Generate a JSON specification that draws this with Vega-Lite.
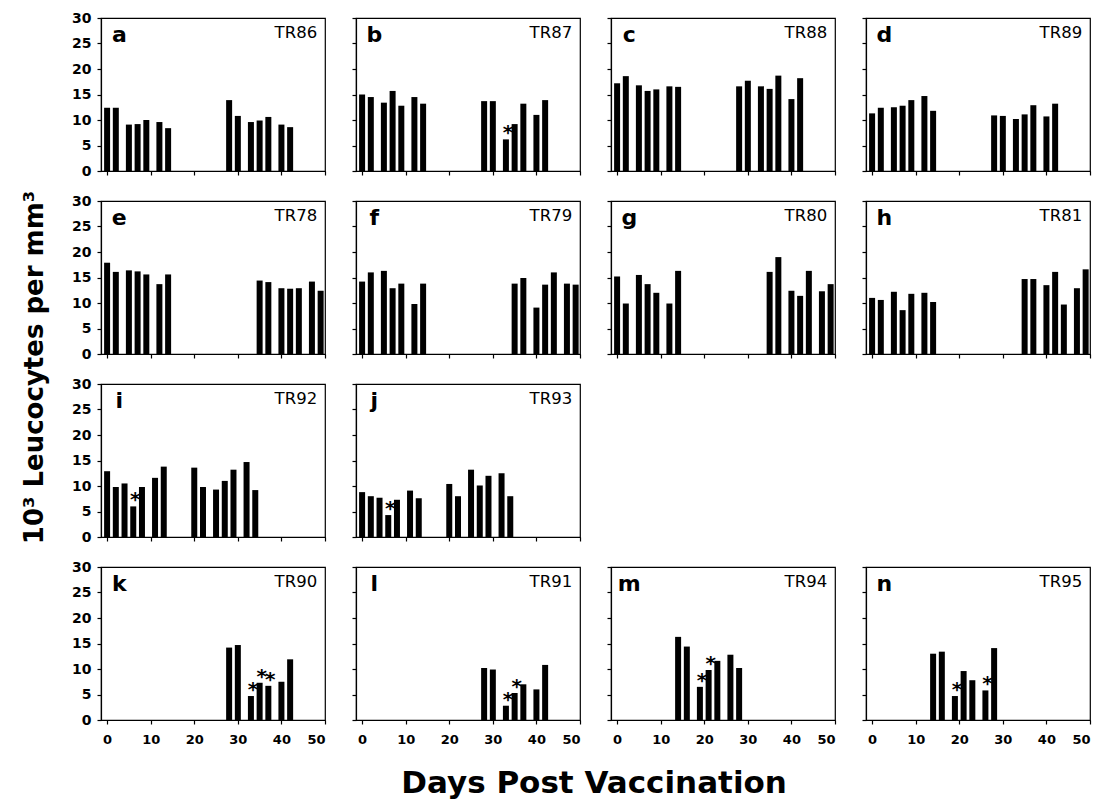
{
"$schema": "https://vega.github.io/schema/vega-lite/v6.json",
"background": "white",
"padding": {"left": 21, "top": 10, "right": 5, "bottom": 5},
"title": {"text": "10³ Leucocytes per mm³", "orient": "left", "anchor": "middle", "fontSize": 26, "offset": 23, "dx": 37},
"spacing": 14,
"datasets": {
"bars": [
{"p":"a","day":0,"wbc":12.4,"star":false},{"p":"a","day":2,"wbc":12.4,"star":false},{"p":"a","day":5,"wbc":9.1,"star":false},{"p":"a","day":7,"wbc":9.2,"star":false},{"p":"a","day":9,"wbc":10.0,"star":false},{"p":"a","day":12,"wbc":9.6,"star":false},{"p":"a","day":14,"wbc":8.4,"star":false},{"p":"a","day":28,"wbc":13.9,"star":false},{"p":"a","day":30,"wbc":10.8,"star":false},{"p":"a","day":33,"wbc":9.6,"star":false},{"p":"a","day":35,"wbc":9.9,"star":false},{"p":"a","day":37,"wbc":10.6,"star":false},{"p":"a","day":40,"wbc":9.1,"star":false},{"p":"a","day":42,"wbc":8.6,"star":false},
{"p":"b","day":0,"wbc":15.0,"star":false},{"p":"b","day":2,"wbc":14.5,"star":false},{"p":"b","day":5,"wbc":13.4,"star":false},{"p":"b","day":7,"wbc":15.7,"star":false},{"p":"b","day":9,"wbc":12.8,"star":false},{"p":"b","day":12,"wbc":14.5,"star":false},{"p":"b","day":14,"wbc":13.2,"star":false},{"p":"b","day":28,"wbc":13.7,"star":false},{"p":"b","day":30,"wbc":13.7,"star":false},{"p":"b","day":33,"wbc":6.2,"star":true},{"p":"b","day":35,"wbc":9.2,"star":false},{"p":"b","day":37,"wbc":13.2,"star":false},{"p":"b","day":40,"wbc":11.0,"star":false},{"p":"b","day":42,"wbc":13.9,"star":false},
{"p":"c","day":0,"wbc":17.2,"star":false},{"p":"c","day":2,"wbc":18.6,"star":false},{"p":"c","day":5,"wbc":16.8,"star":false},{"p":"c","day":7,"wbc":15.7,"star":false},{"p":"c","day":9,"wbc":16.0,"star":false},{"p":"c","day":12,"wbc":16.6,"star":false},{"p":"c","day":14,"wbc":16.5,"star":false},{"p":"c","day":28,"wbc":16.6,"star":false},{"p":"c","day":30,"wbc":17.7,"star":false},{"p":"c","day":33,"wbc":16.6,"star":false},{"p":"c","day":35,"wbc":16.1,"star":false},{"p":"c","day":37,"wbc":18.7,"star":false},{"p":"c","day":40,"wbc":14.1,"star":false},{"p":"c","day":42,"wbc":18.2,"star":false},
{"p":"d","day":0,"wbc":11.3,"star":false},{"p":"d","day":2,"wbc":12.4,"star":false},{"p":"d","day":5,"wbc":12.5,"star":false},{"p":"d","day":7,"wbc":12.8,"star":false},{"p":"d","day":9,"wbc":13.9,"star":false},{"p":"d","day":12,"wbc":14.7,"star":false},{"p":"d","day":14,"wbc":11.8,"star":false},{"p":"d","day":28,"wbc":10.9,"star":false},{"p":"d","day":30,"wbc":10.8,"star":false},{"p":"d","day":33,"wbc":10.2,"star":false},{"p":"d","day":35,"wbc":11.1,"star":false},{"p":"d","day":37,"wbc":12.9,"star":false},{"p":"d","day":40,"wbc":10.7,"star":false},{"p":"d","day":42,"wbc":13.2,"star":false},
{"p":"e","day":0,"wbc":17.9,"star":false},{"p":"e","day":2,"wbc":16.1,"star":false},{"p":"e","day":5,"wbc":16.4,"star":false},{"p":"e","day":7,"wbc":16.2,"star":false},{"p":"e","day":9,"wbc":15.6,"star":false},{"p":"e","day":12,"wbc":13.7,"star":false},{"p":"e","day":14,"wbc":15.6,"star":false},{"p":"e","day":35,"wbc":14.4,"star":false},{"p":"e","day":37,"wbc":14.1,"star":false},{"p":"e","day":40,"wbc":12.9,"star":false},{"p":"e","day":42,"wbc":12.8,"star":false},{"p":"e","day":44,"wbc":12.9,"star":false},{"p":"e","day":47,"wbc":14.2,"star":false},{"p":"e","day":49,"wbc":12.4,"star":false},
{"p":"f","day":0,"wbc":14.2,"star":false},{"p":"f","day":2,"wbc":16.0,"star":false},{"p":"f","day":5,"wbc":16.3,"star":false},{"p":"f","day":7,"wbc":12.9,"star":false},{"p":"f","day":9,"wbc":13.8,"star":false},{"p":"f","day":12,"wbc":9.8,"star":false},{"p":"f","day":14,"wbc":13.8,"star":false},{"p":"f","day":35,"wbc":13.8,"star":false},{"p":"f","day":37,"wbc":14.9,"star":false},{"p":"f","day":40,"wbc":9.1,"star":false},{"p":"f","day":42,"wbc":13.6,"star":false},{"p":"f","day":44,"wbc":16.0,"star":false},{"p":"f","day":47,"wbc":13.8,"star":false},{"p":"f","day":49,"wbc":13.6,"star":false},
{"p":"g","day":0,"wbc":15.2,"star":false},{"p":"g","day":2,"wbc":9.9,"star":false},{"p":"g","day":5,"wbc":15.5,"star":false},{"p":"g","day":7,"wbc":13.7,"star":false},{"p":"g","day":9,"wbc":12.0,"star":false},{"p":"g","day":12,"wbc":9.9,"star":false},{"p":"g","day":14,"wbc":16.3,"star":false},{"p":"g","day":35,"wbc":16.1,"star":false},{"p":"g","day":37,"wbc":19.0,"star":false},{"p":"g","day":40,"wbc":12.4,"star":false},{"p":"g","day":42,"wbc":11.4,"star":false},{"p":"g","day":44,"wbc":16.3,"star":false},{"p":"g","day":47,"wbc":12.3,"star":false},{"p":"g","day":49,"wbc":13.7,"star":false},
{"p":"h","day":0,"wbc":11.0,"star":false},{"p":"h","day":2,"wbc":10.6,"star":false},{"p":"h","day":5,"wbc":12.2,"star":false},{"p":"h","day":7,"wbc":8.6,"star":false},{"p":"h","day":9,"wbc":11.8,"star":false},{"p":"h","day":12,"wbc":12.0,"star":false},{"p":"h","day":14,"wbc":10.2,"star":false},{"p":"h","day":35,"wbc":14.7,"star":false},{"p":"h","day":37,"wbc":14.7,"star":false},{"p":"h","day":40,"wbc":13.5,"star":false},{"p":"h","day":42,"wbc":16.1,"star":false},{"p":"h","day":44,"wbc":9.7,"star":false},{"p":"h","day":47,"wbc":12.9,"star":false},{"p":"h","day":49,"wbc":16.6,"star":false},
{"p":"i","day":0,"wbc":12.9,"star":false},{"p":"i","day":2,"wbc":9.8,"star":false},{"p":"i","day":4,"wbc":10.5,"star":false},{"p":"i","day":6,"wbc":6.0,"star":true},{"p":"i","day":8,"wbc":9.8,"star":false},{"p":"i","day":11,"wbc":11.6,"star":false},{"p":"i","day":13,"wbc":13.8,"star":false},{"p":"i","day":20,"wbc":13.6,"star":false},{"p":"i","day":22,"wbc":9.8,"star":false},{"p":"i","day":25,"wbc":9.3,"star":false},{"p":"i","day":27,"wbc":11.0,"star":false},{"p":"i","day":29,"wbc":13.2,"star":false},{"p":"i","day":32,"wbc":14.7,"star":false},{"p":"i","day":34,"wbc":9.2,"star":false},
{"p":"j","day":0,"wbc":8.8,"star":false},{"p":"j","day":2,"wbc":8.0,"star":false},{"p":"j","day":4,"wbc":7.7,"star":false},{"p":"j","day":6,"wbc":4.3,"star":true},{"p":"j","day":8,"wbc":7.3,"star":false},{"p":"j","day":11,"wbc":9.1,"star":false},{"p":"j","day":13,"wbc":7.6,"star":false},{"p":"j","day":20,"wbc":10.4,"star":false},{"p":"j","day":22,"wbc":8.0,"star":false},{"p":"j","day":25,"wbc":13.2,"star":false},{"p":"j","day":27,"wbc":10.1,"star":false},{"p":"j","day":29,"wbc":12.0,"star":false},{"p":"j","day":32,"wbc":12.5,"star":false},{"p":"j","day":34,"wbc":8.0,"star":false},
{"p":"k","day":28,"wbc":14.2,"star":false},{"p":"k","day":30,"wbc":14.7,"star":false},{"p":"k","day":33,"wbc":4.7,"star":true},{"p":"k","day":35,"wbc":7.3,"star":true},{"p":"k","day":37,"wbc":6.7,"star":true},{"p":"k","day":40,"wbc":7.5,"star":false},{"p":"k","day":42,"wbc":11.9,"star":false},
{"p":"l","day":28,"wbc":10.2,"star":false},{"p":"l","day":30,"wbc":9.9,"star":false},{"p":"l","day":33,"wbc":2.8,"star":true},{"p":"l","day":35,"wbc":5.3,"star":true},{"p":"l","day":37,"wbc":7.0,"star":false},{"p":"l","day":40,"wbc":6.0,"star":false},{"p":"l","day":42,"wbc":10.8,"star":false},
{"p":"m","day":14,"wbc":16.3,"star":false},{"p":"m","day":16,"wbc":14.4,"star":false},{"p":"m","day":19,"wbc":6.5,"star":true},{"p":"m","day":21,"wbc":9.8,"star":true},{"p":"m","day":23,"wbc":11.6,"star":false},{"p":"m","day":26,"wbc":12.8,"star":false},{"p":"m","day":28,"wbc":10.2,"star":false},
{"p":"n","day":14,"wbc":13.0,"star":false},{"p":"n","day":16,"wbc":13.4,"star":false},{"p":"n","day":19,"wbc":4.7,"star":true},{"p":"n","day":21,"wbc":9.6,"star":false},{"p":"n","day":23,"wbc":7.8,"star":false},{"p":"n","day":26,"wbc":5.8,"star":true},{"p":"n","day":28,"wbc":14.1,"star":false}
],
"panels": [
{"p":"a","id":"TR86"},{"p":"b","id":"TR87"},{"p":"c","id":"TR88"},{"p":"d","id":"TR89"},{"p":"e","id":"TR78"},{"p":"f","id":"TR79"},{"p":"g","id":"TR80"},{"p":"h","id":"TR81"},{"p":"i","id":"TR92"},{"p":"j","id":"TR93"},{"p":"k","id":"TR90"},{"p":"l","id":"TR91"},{"p":"m","id":"TR94"},{"p":"n","id":"TR95"}
]
},
"vconcat": [
{"hconcat": [
{"width":224,"height":153,"layer":[
{"data":{"name":"bars"},"transform":[{"filter":"datum.p==='a'"}],"mark":{"type":"bar","size":6,"color":"black"},"encoding":{"x":{"field":"day","type":"quantitative","scale":{"domain":[-1.4,50],"nice":false,"zero":false,"padding":0},"axis":{"labels":false,"title":null}},"y":{"field":"wbc","type":"quantitative","scale":{"domain":[0,30],"nice":false,"padding":0},"axis":{"labels":true,"title":null}}}},
{"data":{"name":"bars"},"transform":[{"filter":"datum.p==='a' && datum.star"}],"mark":{"type":"text","text":"*","fontSize":20,"fontWeight":"bold","dx":2,"dy":0,"baseline":"alphabetic"},"encoding":{"x":{"field":"day","type":"quantitative"},"y":{"field":"wbc","type":"quantitative"}}},
{"data":{"name":"panels"},"transform":[{"filter":"datum.p==='a'"}],"mark":{"type":"text","fontSize":22,"fontWeight":"bold","align":"center","baseline":"alphabetic"},"encoding":{"text":{"field":"p"},"x":{"datum":2.8},"y":{"datum":25.2}}},
{"data":{"name":"panels"},"transform":[{"filter":"datum.p==='a'"}],"mark":{"type":"text","fontSize":16.5,"align":"right","baseline":"alphabetic"},"encoding":{"text":{"field":"id"},"x":{"datum":48.2},"y":{"datum":26.0}}}
]},
{"width":224,"height":153,"layer":[
{"data":{"name":"bars"},"transform":[{"filter":"datum.p==='b'"}],"mark":{"type":"bar","size":6,"color":"black"},"encoding":{"x":{"field":"day","type":"quantitative","scale":{"domain":[-1.4,50],"nice":false,"zero":false,"padding":0},"axis":{"labels":false,"title":null}},"y":{"field":"wbc","type":"quantitative","scale":{"domain":[0,30],"nice":false,"padding":0},"axis":{"labels":false,"title":null}}}},
{"data":{"name":"bars"},"transform":[{"filter":"datum.p==='b' && datum.star"}],"mark":{"type":"text","text":"*","fontSize":20,"fontWeight":"bold","dx":2,"dy":0,"baseline":"alphabetic"},"encoding":{"x":{"field":"day","type":"quantitative"},"y":{"field":"wbc","type":"quantitative"}}},
{"data":{"name":"panels"},"transform":[{"filter":"datum.p==='b'"}],"mark":{"type":"text","fontSize":22,"fontWeight":"bold","align":"center","baseline":"alphabetic"},"encoding":{"text":{"field":"p"},"x":{"datum":2.8},"y":{"datum":25.2}}},
{"data":{"name":"panels"},"transform":[{"filter":"datum.p==='b'"}],"mark":{"type":"text","fontSize":16.5,"align":"right","baseline":"alphabetic"},"encoding":{"text":{"field":"id"},"x":{"datum":48.2},"y":{"datum":26.0}}}
]},
{"width":224,"height":153,"layer":[
{"data":{"name":"bars"},"transform":[{"filter":"datum.p==='c'"}],"mark":{"type":"bar","size":6,"color":"black"},"encoding":{"x":{"field":"day","type":"quantitative","scale":{"domain":[-1.4,50],"nice":false,"zero":false,"padding":0},"axis":{"labels":false,"title":null}},"y":{"field":"wbc","type":"quantitative","scale":{"domain":[0,30],"nice":false,"padding":0},"axis":{"labels":false,"title":null}}}},
{"data":{"name":"bars"},"transform":[{"filter":"datum.p==='c' && datum.star"}],"mark":{"type":"text","text":"*","fontSize":20,"fontWeight":"bold","dx":2,"dy":0,"baseline":"alphabetic"},"encoding":{"x":{"field":"day","type":"quantitative"},"y":{"field":"wbc","type":"quantitative"}}},
{"data":{"name":"panels"},"transform":[{"filter":"datum.p==='c'"}],"mark":{"type":"text","fontSize":22,"fontWeight":"bold","align":"center","baseline":"alphabetic"},"encoding":{"text":{"field":"p"},"x":{"datum":2.8},"y":{"datum":25.2}}},
{"data":{"name":"panels"},"transform":[{"filter":"datum.p==='c'"}],"mark":{"type":"text","fontSize":16.5,"align":"right","baseline":"alphabetic"},"encoding":{"text":{"field":"id"},"x":{"datum":48.2},"y":{"datum":26.0}}}
]},
{"width":224,"height":153,"layer":[
{"data":{"name":"bars"},"transform":[{"filter":"datum.p==='d'"}],"mark":{"type":"bar","size":6,"color":"black"},"encoding":{"x":{"field":"day","type":"quantitative","scale":{"domain":[-1.4,50],"nice":false,"zero":false,"padding":0},"axis":{"labels":false,"title":null}},"y":{"field":"wbc","type":"quantitative","scale":{"domain":[0,30],"nice":false,"padding":0},"axis":{"labels":false,"title":null}}}},
{"data":{"name":"bars"},"transform":[{"filter":"datum.p==='d' && datum.star"}],"mark":{"type":"text","text":"*","fontSize":20,"fontWeight":"bold","dx":2,"dy":0,"baseline":"alphabetic"},"encoding":{"x":{"field":"day","type":"quantitative"},"y":{"field":"wbc","type":"quantitative"}}},
{"data":{"name":"panels"},"transform":[{"filter":"datum.p==='d'"}],"mark":{"type":"text","fontSize":22,"fontWeight":"bold","align":"center","baseline":"alphabetic"},"encoding":{"text":{"field":"p"},"x":{"datum":2.8},"y":{"datum":25.2}}},
{"data":{"name":"panels"},"transform":[{"filter":"datum.p==='d'"}],"mark":{"type":"text","fontSize":16.5,"align":"right","baseline":"alphabetic"},"encoding":{"text":{"field":"id"},"x":{"datum":48.2},"y":{"datum":26.0}}}
]}
], "spacing": 31, "bounds": "flush"},
{"hconcat": [
{"width":224,"height":153,"layer":[
{"data":{"name":"bars"},"transform":[{"filter":"datum.p==='e'"}],"mark":{"type":"bar","size":6,"color":"black"},"encoding":{"x":{"field":"day","type":"quantitative","scale":{"domain":[-1.4,50],"nice":false,"zero":false,"padding":0},"axis":{"labels":false,"title":null}},"y":{"field":"wbc","type":"quantitative","scale":{"domain":[0,30],"nice":false,"padding":0},"axis":{"labels":true,"title":null}}}},
{"data":{"name":"bars"},"transform":[{"filter":"datum.p==='e' && datum.star"}],"mark":{"type":"text","text":"*","fontSize":20,"fontWeight":"bold","dx":2,"dy":0,"baseline":"alphabetic"},"encoding":{"x":{"field":"day","type":"quantitative"},"y":{"field":"wbc","type":"quantitative"}}},
{"data":{"name":"panels"},"transform":[{"filter":"datum.p==='e'"}],"mark":{"type":"text","fontSize":22,"fontWeight":"bold","align":"center","baseline":"alphabetic"},"encoding":{"text":{"field":"p"},"x":{"datum":2.8},"y":{"datum":25.2}}},
{"data":{"name":"panels"},"transform":[{"filter":"datum.p==='e'"}],"mark":{"type":"text","fontSize":16.5,"align":"right","baseline":"alphabetic"},"encoding":{"text":{"field":"id"},"x":{"datum":48.2},"y":{"datum":26.0}}}
]},
{"width":224,"height":153,"layer":[
{"data":{"name":"bars"},"transform":[{"filter":"datum.p==='f'"}],"mark":{"type":"bar","size":6,"color":"black"},"encoding":{"x":{"field":"day","type":"quantitative","scale":{"domain":[-1.4,50],"nice":false,"zero":false,"padding":0},"axis":{"labels":false,"title":null}},"y":{"field":"wbc","type":"quantitative","scale":{"domain":[0,30],"nice":false,"padding":0},"axis":{"labels":false,"title":null}}}},
{"data":{"name":"bars"},"transform":[{"filter":"datum.p==='f' && datum.star"}],"mark":{"type":"text","text":"*","fontSize":20,"fontWeight":"bold","dx":2,"dy":0,"baseline":"alphabetic"},"encoding":{"x":{"field":"day","type":"quantitative"},"y":{"field":"wbc","type":"quantitative"}}},
{"data":{"name":"panels"},"transform":[{"filter":"datum.p==='f'"}],"mark":{"type":"text","fontSize":22,"fontWeight":"bold","align":"center","baseline":"alphabetic"},"encoding":{"text":{"field":"p"},"x":{"datum":2.8},"y":{"datum":25.2}}},
{"data":{"name":"panels"},"transform":[{"filter":"datum.p==='f'"}],"mark":{"type":"text","fontSize":16.5,"align":"right","baseline":"alphabetic"},"encoding":{"text":{"field":"id"},"x":{"datum":48.2},"y":{"datum":26.0}}}
]},
{"width":224,"height":153,"layer":[
{"data":{"name":"bars"},"transform":[{"filter":"datum.p==='g'"}],"mark":{"type":"bar","size":6,"color":"black"},"encoding":{"x":{"field":"day","type":"quantitative","scale":{"domain":[-1.4,50],"nice":false,"zero":false,"padding":0},"axis":{"labels":false,"title":null}},"y":{"field":"wbc","type":"quantitative","scale":{"domain":[0,30],"nice":false,"padding":0},"axis":{"labels":false,"title":null}}}},
{"data":{"name":"bars"},"transform":[{"filter":"datum.p==='g' && datum.star"}],"mark":{"type":"text","text":"*","fontSize":20,"fontWeight":"bold","dx":2,"dy":0,"baseline":"alphabetic"},"encoding":{"x":{"field":"day","type":"quantitative"},"y":{"field":"wbc","type":"quantitative"}}},
{"data":{"name":"panels"},"transform":[{"filter":"datum.p==='g'"}],"mark":{"type":"text","fontSize":22,"fontWeight":"bold","align":"center","baseline":"alphabetic"},"encoding":{"text":{"field":"p"},"x":{"datum":2.8},"y":{"datum":25.2}}},
{"data":{"name":"panels"},"transform":[{"filter":"datum.p==='g'"}],"mark":{"type":"text","fontSize":16.5,"align":"right","baseline":"alphabetic"},"encoding":{"text":{"field":"id"},"x":{"datum":48.2},"y":{"datum":26.0}}}
]},
{"width":224,"height":153,"layer":[
{"data":{"name":"bars"},"transform":[{"filter":"datum.p==='h'"}],"mark":{"type":"bar","size":6,"color":"black"},"encoding":{"x":{"field":"day","type":"quantitative","scale":{"domain":[-1.4,50],"nice":false,"zero":false,"padding":0},"axis":{"labels":false,"title":null}},"y":{"field":"wbc","type":"quantitative","scale":{"domain":[0,30],"nice":false,"padding":0},"axis":{"labels":false,"title":null}}}},
{"data":{"name":"bars"},"transform":[{"filter":"datum.p==='h' && datum.star"}],"mark":{"type":"text","text":"*","fontSize":20,"fontWeight":"bold","dx":2,"dy":0,"baseline":"alphabetic"},"encoding":{"x":{"field":"day","type":"quantitative"},"y":{"field":"wbc","type":"quantitative"}}},
{"data":{"name":"panels"},"transform":[{"filter":"datum.p==='h'"}],"mark":{"type":"text","fontSize":22,"fontWeight":"bold","align":"center","baseline":"alphabetic"},"encoding":{"text":{"field":"p"},"x":{"datum":2.8},"y":{"datum":25.2}}},
{"data":{"name":"panels"},"transform":[{"filter":"datum.p==='h'"}],"mark":{"type":"text","fontSize":16.5,"align":"right","baseline":"alphabetic"},"encoding":{"text":{"field":"id"},"x":{"datum":48.2},"y":{"datum":26.0}}}
]}
], "spacing": 31, "bounds": "flush"},
{"hconcat": [
{"width":224,"height":153,"layer":[
{"data":{"name":"bars"},"transform":[{"filter":"datum.p==='i'"}],"mark":{"type":"bar","size":6,"color":"black"},"encoding":{"x":{"field":"day","type":"quantitative","scale":{"domain":[-1.4,50],"nice":false,"zero":false,"padding":0},"axis":{"labels":false,"title":null}},"y":{"field":"wbc","type":"quantitative","scale":{"domain":[0,30],"nice":false,"padding":0},"axis":{"labels":true,"title":null}}}},
{"data":{"name":"bars"},"transform":[{"filter":"datum.p==='i' && datum.star"}],"mark":{"type":"text","text":"*","fontSize":20,"fontWeight":"bold","dx":2,"dy":0,"baseline":"alphabetic"},"encoding":{"x":{"field":"day","type":"quantitative"},"y":{"field":"wbc","type":"quantitative"}}},
{"data":{"name":"panels"},"transform":[{"filter":"datum.p==='i'"}],"mark":{"type":"text","fontSize":22,"fontWeight":"bold","align":"center","baseline":"alphabetic"},"encoding":{"text":{"field":"p"},"x":{"datum":2.8},"y":{"datum":25.2}}},
{"data":{"name":"panels"},"transform":[{"filter":"datum.p==='i'"}],"mark":{"type":"text","fontSize":16.5,"align":"right","baseline":"alphabetic"},"encoding":{"text":{"field":"id"},"x":{"datum":48.2},"y":{"datum":26.0}}}
]},
{"width":224,"height":153,"layer":[
{"data":{"name":"bars"},"transform":[{"filter":"datum.p==='j'"}],"mark":{"type":"bar","size":6,"color":"black"},"encoding":{"x":{"field":"day","type":"quantitative","scale":{"domain":[-1.4,50],"nice":false,"zero":false,"padding":0},"axis":{"labels":false,"title":null}},"y":{"field":"wbc","type":"quantitative","scale":{"domain":[0,30],"nice":false,"padding":0},"axis":{"labels":false,"title":null}}}},
{"data":{"name":"bars"},"transform":[{"filter":"datum.p==='j' && datum.star"}],"mark":{"type":"text","text":"*","fontSize":20,"fontWeight":"bold","dx":2,"dy":0,"baseline":"alphabetic"},"encoding":{"x":{"field":"day","type":"quantitative"},"y":{"field":"wbc","type":"quantitative"}}},
{"data":{"name":"panels"},"transform":[{"filter":"datum.p==='j'"}],"mark":{"type":"text","fontSize":22,"fontWeight":"bold","align":"center","baseline":"alphabetic"},"encoding":{"text":{"field":"p"},"x":{"datum":2.8},"y":{"datum":25.2}}},
{"data":{"name":"panels"},"transform":[{"filter":"datum.p==='j'"}],"mark":{"type":"text","fontSize":16.5,"align":"right","baseline":"alphabetic"},"encoding":{"text":{"field":"id"},"x":{"datum":48.2},"y":{"datum":26.0}}}
]}
], "spacing": 31, "bounds": "flush"},
{"hconcat": [
{"width":224,"height":153,"layer":[
{"data":{"name":"bars"},"transform":[{"filter":"datum.p==='k'"}],"mark":{"type":"bar","size":6,"color":"black"},"encoding":{"x":{"field":"day","type":"quantitative","scale":{"domain":[-1.4,50],"nice":false,"zero":false,"padding":0},"axis":{"labels":true,"title":null}},"y":{"field":"wbc","type":"quantitative","scale":{"domain":[0,30],"nice":false,"padding":0},"axis":{"labels":true,"title":null}}}},
{"data":{"name":"bars"},"transform":[{"filter":"datum.p==='k' && datum.star"}],"mark":{"type":"text","text":"*","fontSize":20,"fontWeight":"bold","dx":2,"dy":0,"baseline":"alphabetic"},"encoding":{"x":{"field":"day","type":"quantitative"},"y":{"field":"wbc","type":"quantitative"}}},
{"data":{"name":"panels"},"transform":[{"filter":"datum.p==='k'"}],"mark":{"type":"text","fontSize":22,"fontWeight":"bold","align":"center","baseline":"alphabetic"},"encoding":{"text":{"field":"p"},"x":{"datum":2.8},"y":{"datum":25.2}}},
{"data":{"name":"panels"},"transform":[{"filter":"datum.p==='k'"}],"mark":{"type":"text","fontSize":16.5,"align":"right","baseline":"alphabetic"},"encoding":{"text":{"field":"id"},"x":{"datum":48.2},"y":{"datum":26.0}}}
]},
{"width":224,"height":153,"layer":[
{"data":{"name":"bars"},"transform":[{"filter":"datum.p==='l'"}],"mark":{"type":"bar","size":6,"color":"black"},"encoding":{"x":{"field":"day","type":"quantitative","scale":{"domain":[-1.4,50],"nice":false,"zero":false,"padding":0},"axis":{"labels":true,"title":null}},"y":{"field":"wbc","type":"quantitative","scale":{"domain":[0,30],"nice":false,"padding":0},"axis":{"labels":false,"title":null}}}},
{"data":{"name":"bars"},"transform":[{"filter":"datum.p==='l' && datum.star"}],"mark":{"type":"text","text":"*","fontSize":20,"fontWeight":"bold","dx":2,"dy":0,"baseline":"alphabetic"},"encoding":{"x":{"field":"day","type":"quantitative"},"y":{"field":"wbc","type":"quantitative"}}},
{"data":{"name":"panels"},"transform":[{"filter":"datum.p==='l'"}],"mark":{"type":"text","fontSize":22,"fontWeight":"bold","align":"center","baseline":"alphabetic"},"encoding":{"text":{"field":"p"},"x":{"datum":2.8},"y":{"datum":25.2}}},
{"data":{"name":"panels"},"transform":[{"filter":"datum.p==='l'"}],"mark":{"type":"text","fontSize":16.5,"align":"right","baseline":"alphabetic"},"encoding":{"text":{"field":"id"},"x":{"datum":48.2},"y":{"datum":26.0}}}
]},
{"width":224,"height":153,"layer":[
{"data":{"name":"bars"},"transform":[{"filter":"datum.p==='m'"}],"mark":{"type":"bar","size":6,"color":"black"},"encoding":{"x":{"field":"day","type":"quantitative","scale":{"domain":[-1.4,50],"nice":false,"zero":false,"padding":0},"axis":{"labels":true,"title":null}},"y":{"field":"wbc","type":"quantitative","scale":{"domain":[0,30],"nice":false,"padding":0},"axis":{"labels":false,"title":null}}}},
{"data":{"name":"bars"},"transform":[{"filter":"datum.p==='m' && datum.star"}],"mark":{"type":"text","text":"*","fontSize":20,"fontWeight":"bold","dx":2,"dy":0,"baseline":"alphabetic"},"encoding":{"x":{"field":"day","type":"quantitative"},"y":{"field":"wbc","type":"quantitative"}}},
{"data":{"name":"panels"},"transform":[{"filter":"datum.p==='m'"}],"mark":{"type":"text","fontSize":22,"fontWeight":"bold","align":"center","baseline":"alphabetic"},"encoding":{"text":{"field":"p"},"x":{"datum":2.8},"y":{"datum":25.2}}},
{"data":{"name":"panels"},"transform":[{"filter":"datum.p==='m'"}],"mark":{"type":"text","fontSize":16.5,"align":"right","baseline":"alphabetic"},"encoding":{"text":{"field":"id"},"x":{"datum":48.2},"y":{"datum":26.0}}}
]},
{"width":224,"height":153,"layer":[
{"data":{"name":"bars"},"transform":[{"filter":"datum.p==='n'"}],"mark":{"type":"bar","size":6,"color":"black"},"encoding":{"x":{"field":"day","type":"quantitative","scale":{"domain":[-1.4,50],"nice":false,"zero":false,"padding":0},"axis":{"labels":true,"title":null}},"y":{"field":"wbc","type":"quantitative","scale":{"domain":[0,30],"nice":false,"padding":0},"axis":{"labels":false,"title":null}}}},
{"data":{"name":"bars"},"transform":[{"filter":"datum.p==='n' && datum.star"}],"mark":{"type":"text","text":"*","fontSize":20,"fontWeight":"bold","dx":2,"dy":0,"baseline":"alphabetic"},"encoding":{"x":{"field":"day","type":"quantitative"},"y":{"field":"wbc","type":"quantitative"}}},
{"data":{"name":"panels"},"transform":[{"filter":"datum.p==='n'"}],"mark":{"type":"text","fontSize":22,"fontWeight":"bold","align":"center","baseline":"alphabetic"},"encoding":{"text":{"field":"p"},"x":{"datum":2.8},"y":{"datum":25.2}}},
{"data":{"name":"panels"},"transform":[{"filter":"datum.p==='n'"}],"mark":{"type":"text","fontSize":16.5,"align":"right","baseline":"alphabetic"},"encoding":{"text":{"field":"id"},"x":{"datum":48.2},"y":{"datum":26.0}}}
]}
], "spacing": 31, "bounds": "flush",
"title": {"text": "Days Post Vaccination", "orient": "bottom", "anchor": "middle", "fontSize": 31, "offset": 22, "dx": 13}}
],
"config": {
"font": "DejaVu Sans",
"view": {"stroke": "black", "strokeWidth": 1.2},
"axis": {"domainColor": "black", "domainWidth": 1.2, "tickColor": "black", "tickWidth": 1.2, "tickSize": 4, "grid": false, "labelFont": "DejaVu Sans", "labelFontWeight": "bold", "labelColor": "black", "labelPadding": 3},
"axisX": {"tickCount": 5, "labelFontSize": 13, "labelPadding": 9},
"axisY": {"tickCount": 6, "labelFontSize": 14, "labelPadding": 6},
"text": {"font": "DejaVu Sans", "color": "black"},
"title": {"font": "DejaVu Sans", "fontWeight": "bold", "color": "black"}
}
}
